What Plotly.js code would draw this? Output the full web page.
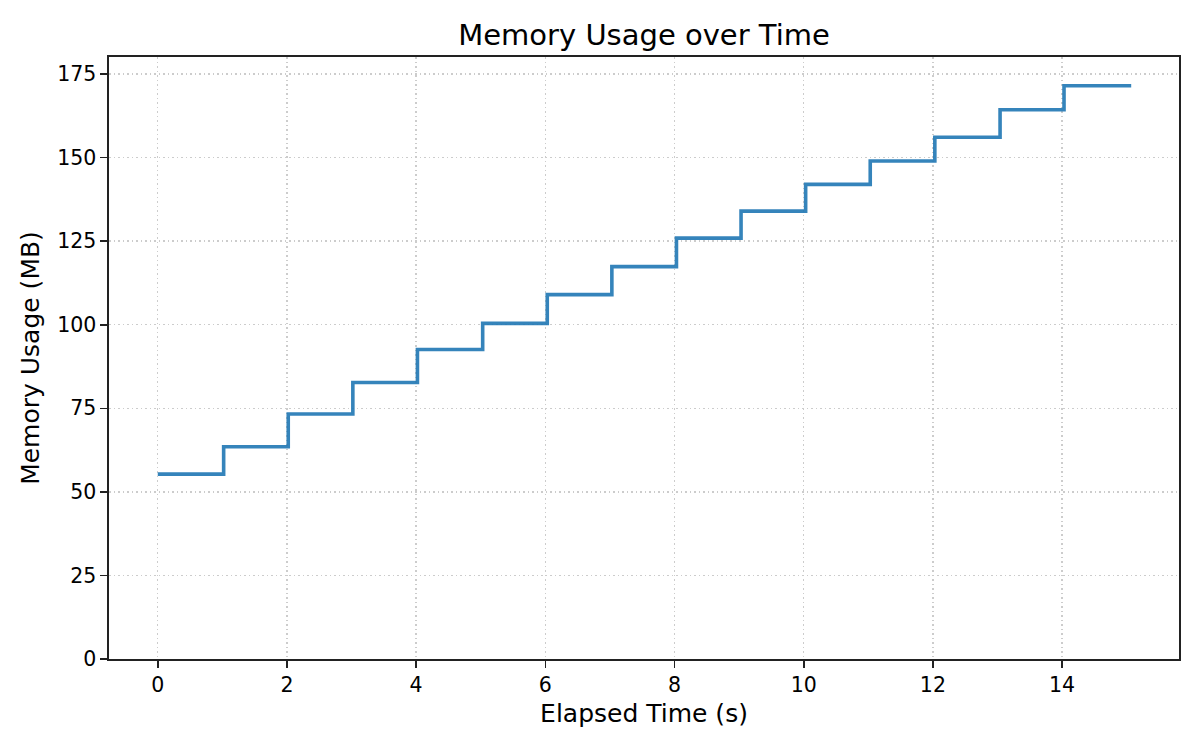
<!DOCTYPE html>
<html>
<head>
<meta charset="utf-8">
<script src="https://cdn.plot.ly/plotly-3.0.1.min.js"></script>
<style>
  html, body { margin: 0; padding: 0; background: #fff; }
  #chart { width: 1200px; height: 750px; }
</style>
</head>
<body>
<div id="chart"></div>
<script>
const elapsed = [0, 1.02, 2.02, 3.02, 4.02, 5.03, 6.03, 7.03, 8.03, 9.03, 10.03, 11.03, 12.03, 13.04, 14.03, 15.07];
const memory = [55.3, 63.5, 73.3, 82.7, 92.6, 100.4, 109.0, 117.4, 125.9, 134.0, 142.0, 149.0, 156.1, 164.3, 171.5, 171.5];

const xTicks = [0, 2, 4, 6, 8, 10, 12, 14];
const yTicks = [0, 25, 50, 75, 100, 125, 150, 175];

const font = "DejaVu Sans, sans-serif";

// step trace, held until the next sample (matplotlib where="post")
let trace = {
    type: "scatter",
    mode: "lines",
    x: elapsed,
    y: memory,
    line: { shape: "hv", color: "#1f77b4", width: 3.6 },
    opacity: 0.9,
    hoverinfo: "x+y",
    showlegend: false
};

let axisBase = {
    showline: true,
    mirror: true,
    linecolor: "#222222",
    linewidth: 1.6,
    ticks: "outside",
    ticklen: 7,
    tickwidth: 1.6,
    tickcolor: "#222222",
    showgrid: true,
    gridcolor: "#cccccc",
    gridwidth: 1.4,
    griddash: "1.6px,2.9px",
    zeroline: false,
    tickfont: { family: font, size: 20.5, color: "#000" }
};

let layout = {
    width: 1200,
    height: 750,
    paper_bgcolor: "#fff",
    plot_bgcolor: "#fff",
    margin: { l: 109, r: 21, t: 57, b: 91 },
    title: {
        text: "Memory Usage over Time",
        font: { family: font, size: 29, color: "#000" },
        x: 0.5367,
        xanchor: "center",
        yref: "container",
        y: 0.954,
        yanchor: "middle"
    },
    xaxis: Object.assign({}, axisBase, {
        range: [-0.755, 15.81],
        tickvals: xTicks,
        ticktext: xTicks.map(String),
        title: { text: "Elapsed Time (s)", font: { family: font, size: 25, color: "#000" }, standoff: 8 }
    }),
    yaxis: Object.assign({}, axisBase, {
        range: [0, 180.1],
        tickvals: yTicks,
        ticktext: yTicks.map(String),
        title: { text: "Memory Usage (MB)", font: { family: font, size: 25, color: "#000" }, standoff: 10 }
    })
};

Plotly.newPlot("chart", [trace], layout, { displayModeBar: false, staticPlot: true });
</script>
</body>
</html>
